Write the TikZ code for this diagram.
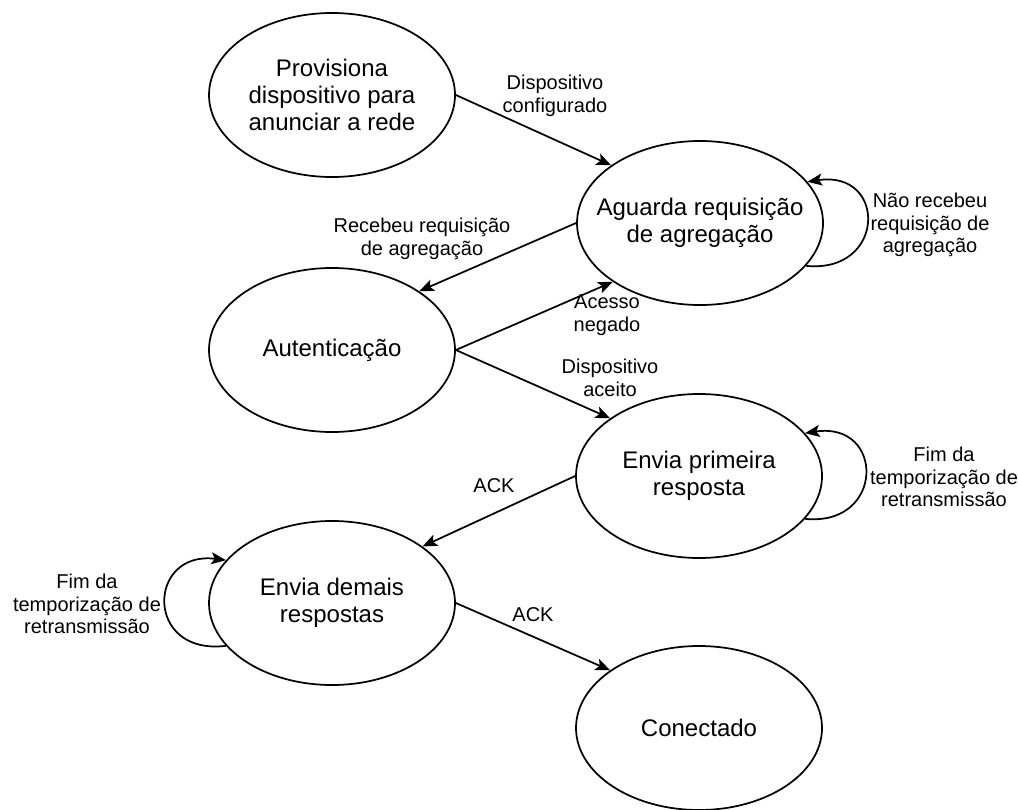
\documentclass[tikz,border=0pt]{standalone}
\usepackage{fontspec}
\setmainfont{Liberation Sans}
\usetikzlibrary{shapes.geometric,arrows.meta}

\begin{document}
\begin{tikzpicture}[x=0.75pt,y=-0.75pt,
  state/.style={ellipse, draw, line width=1.3pt, minimum width=184.5pt,
    minimum height=123pt, inner xsep=-25pt, inner ysep=0pt, align=center,
    font=\fontsize{18}{20.5}\selectfont},
  trans/.style={line width=1.3pt, -{Stealth[length=11pt,width=9pt,inset=2.5pt]}},
  lbl/.style={align=center, inner sep=0pt, font=\fontsize{15}{17}\selectfont}]
\useasboundingbox (0,0) rectangle (1019,809);

% states
\node[state] (e1) at (332,95)  {Provisiona\\dispositivo para\\anunciar a rede};
\node[state] (e2) at (700,223) {Aguarda requisição\\de agregação};
\node[state] (e3) at (332,350) {Autenticação};
\node[state] (e4) at (699,476) {Envia primeira\\resposta};
\node[state] (e5) at (332,603) {Envia demais\\respostas};
\node[state] (e6) at (699,728) {Conectado};

% transitions
\draw[trans] (e1.east) -- (e2.147);
\draw[trans] (e2.west) -- (e3.34);
\draw[trans] (e3.east) -- (e2.214);
\draw[trans] (e3.east) -- (e4.147);
\draw[trans] (e4.west) -- (e5.32);
\draw[trans] (e5.east) -- (e6.147);

% self loops
\draw[trans] (e2.-22) .. controls +(80,8) and +(80,-12) .. (e2.21);
\draw[trans] (e4.-22) .. controls +(80,8) and +(80,-12) .. (e4.22);
\draw[trans] (e5.202) .. controls +(-82,10) and +(-79,-10) .. (e5.158);

% transition labels
\node[lbl] (l1) at (555,96)  {Dispositivo\\configurado};
\node[lbl] (l2) at (422,239) {Recebeu requisição\\de agregação};
\node[lbl] (l3) at (607,315) {Acesso\\negado};
\node[lbl] (l4) at (610,378) {Dispositivo\\aceito};
\node[lbl] (l5) at (494,486) {ACK};
\node[lbl] (l6) at (533,615) {ACK};
\node[lbl] (l7) at (930,225) {Não recebeu\\requisição de\\agregação};
\node[lbl] (l8) at (944,477) {Fim da\\temporização de\\retransmissão};
\node[lbl] (l9) at (87,604)  {Fim da\\temporização de\\retransmissão};
\end{tikzpicture}
\end{document}
